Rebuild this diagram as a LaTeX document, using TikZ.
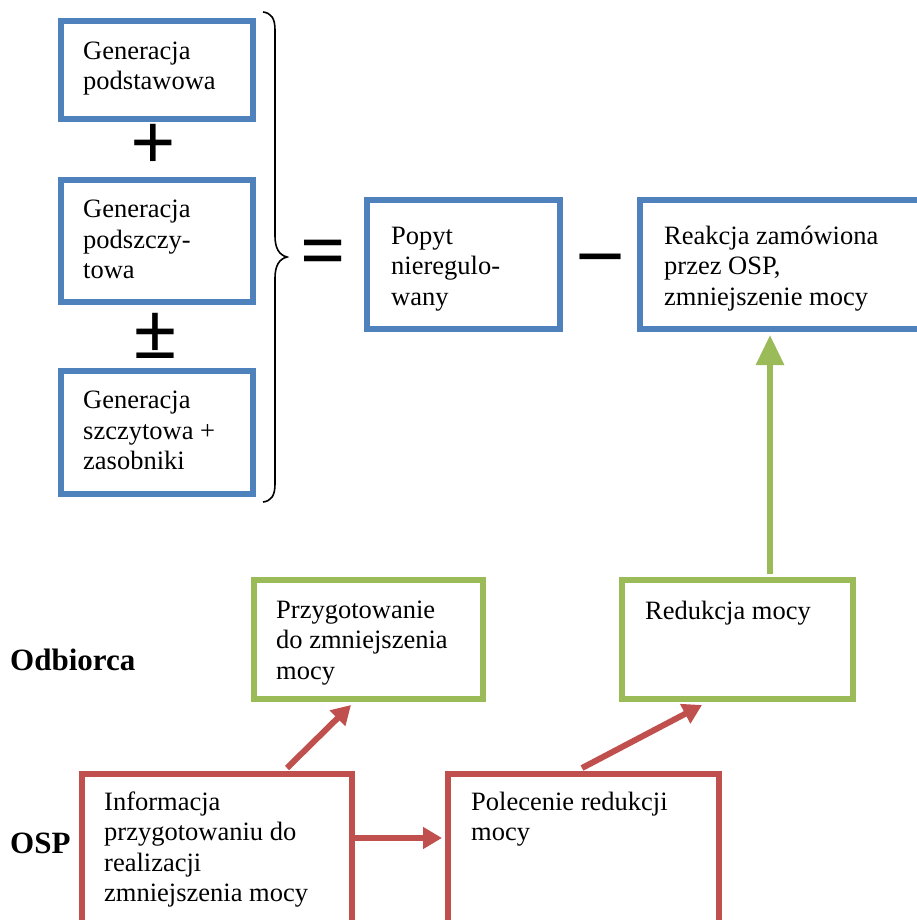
\documentclass[tikz,border=0pt]{standalone}
\usepackage{fontspec}
\setmainfont{Liberation Serif}
\usetikzlibrary{arrows.meta}
\definecolor{bblue}{HTML}{4F81BD}
\definecolor{bgreen}{HTML}{9BBB59}
\definecolor{bred}{HTML}{C0504D}
\begin{document}
\begin{tikzpicture}[x=1pt,y=-1pt,
  box/.style={draw, line width=6pt, rectangle, inner sep=0pt},
  bluebox/.style={box, draw=bblue},
  greenbox/.style={box, draw=bgreen},
  redbox/.style={box, draw=bred},
  txt/.style={anchor=base west, align=left, inner sep=0pt, font=\fontsize{26.5}{30.5}\selectfont},
  sign/.style={inner sep=0pt, font=\fontsize{80}{80}\selectfont\bfseries},
  lab/.style={anchor=base west, inner sep=0pt, font=\fontsize{31}{36}\selectfont\bfseries},
  redarrow/.style={draw=bred, line width=6pt, -{Triangle[length=19pt,width=21pt]}},
  greenarrow/.style={draw=bgreen, line width=6pt, -{Triangle[length=30pt,width=27pt]}}
]
\useasboundingbox (0,0) rectangle (917,920);
% top (blue) boxes
\node[bluebox, minimum width=192, minimum height=98] (g1) at (157,70) {};
\node[bluebox, minimum width=192, minimum height=122] (g2) at (157,241) {};
\node[bluebox, minimum width=192, minimum height=123] (g3) at (157,432.5) {};
\node[bluebox, minimum width=193, minimum height=129] (popyt) at (463.5,264.5) {};
\node[bluebox, minimum width=300, minimum height=129] (reakcja) at (790,264.5) {};
% (anchor = baseline of the last line)
\node[txt] (tg1) at (83,90) {Generacja\\podstawowa};
\node[txt] (tg2) at (83,278.5) {Generacja\\podszczy-\\towa};
\node[txt] (tg3) at (83,469.5) {Generacja\\szczytowa +\\zasobniki};
\node[txt] (tpopyt) at (391,305) {Popyt\\nieregulo-\\wany};
\node[txt] (treakcja) at (664,305) {Reakcja zamówiona\\przez OSP,\\zmniejszenie mocy};
% signs
\node[sign] (plus) at (153,147) {+};
\node[sign] (pm) at (155,335.5) {±};
\node[sign] (eq) at (323,258.5) {=};
\node[sign] (minus) at (600,265) {–};
% brace
\draw[line width=1.6pt] (263,12) .. controls (271,13) and (275,18) .. (275,30) -- (275,236)
  .. controls (275,248) and (279,255) .. (287,257)
  .. controls (279,259) and (275,266) .. (275,278) -- (275,484)
  .. controls (275,496) and (271,501) .. (263,502);
% bottom boxes
\node[greenbox, minimum width=229, minimum height=119] (przyg) at (368.5,639.5) {};
\node[greenbox, minimum width=231, minimum height=119] (redukcja) at (737.5,639.5) {};
\node[redbox, minimum width=270, minimum height=176] (info) at (217,862) {};
\node[redbox, minimum width=271, minimum height=176] (polecenie) at (583.5,862) {};
\node[txt] (tprzyg) at (276,679) {Przygotowanie\\do zmniejszenia\\mocy};
\node[txt] (tredukcja) at (645,619) {Redukcja mocy};
\node[txt] (tinfo) at (104,901.5) {Informacja\\przygotowaniu do\\realizacji\\zmniejszenia mocy};
\node[txt] (tpolecenie) at (471,840.5) {Polecenie redukcji\\mocy};
\node[lab] (odb) at (10,670) {Odbiorca};
\node[lab] (osp) at (10,853) {OSP};
% arrows
\draw[greenarrow] ([xshift=32.5pt,yshift=3pt]redukcja.north) -- ([xshift=-20pt,yshift=-3pt]reakcja.south);
\draw[redarrow] ([xshift=70pt,yshift=3pt]info.north) -- ([xshift=-17.5pt,yshift=-3pt]przyg.south);
\draw[redarrow] ([xshift=-1.5pt,yshift=3pt]polecenie.north) -- ([xshift=-35.5pt,yshift=-3pt]redukcja.south);
\draw[redarrow] ([yshift=24pt]info.east) -- ([xshift=-3pt,yshift=24pt]polecenie.west);
\end{tikzpicture}
\end{document}
